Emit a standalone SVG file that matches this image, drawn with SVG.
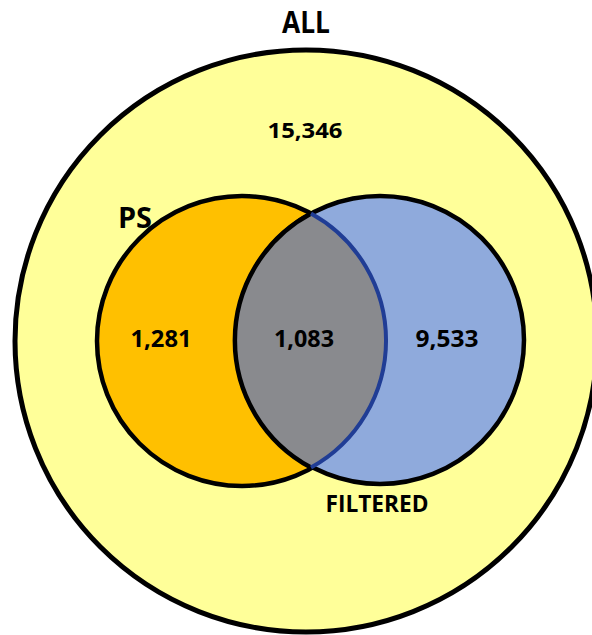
<svg xmlns="http://www.w3.org/2000/svg" width="592" height="635" viewBox="0 0 592 635">
  <style>
    .lbl { font-family: "Open Sans", "Liberation Sans", sans-serif; font-weight: bold; fill: #000; text-anchor: middle; }
    .ring { stroke: #000; stroke-width: 4.5; }
  </style>
  <rect width="592" height="635" fill="#ffffff"/>

  <!-- universe -->
  <g id="all">
    <circle cx="306" cy="341" r="291" fill="#FFFF99" stroke="#000" stroke-width="5"/>
    <text class="lbl" x="306" y="33" font-size="30" textLength="48" lengthAdjust="spacingAndGlyphs">ALL</text>
    <text class="lbl" x="305" y="138" font-size="22" textLength="75" lengthAdjust="spacingAndGlyphs">15,346</text>
  </g>

  <!-- PS set -->
  <g id="ps">
    <circle class="ring" cx="242" cy="341" r="145" fill="#FFC000"/>
    <text class="lbl" x="135" y="228" font-size="28" textLength="34" lengthAdjust="spacingAndGlyphs">PS</text>
    <text class="lbl" x="161" y="347" font-size="23" textLength="61" lengthAdjust="spacingAndGlyphs">1,281</text>
  </g>

  <!-- FILTERED set -->
  <g id="filtered">
    <circle class="ring" cx="380" cy="340" r="144" fill="#8FAADC"/>
    <text class="lbl" x="447" y="347" font-size="23" textLength="63" lengthAdjust="spacingAndGlyphs">9,533</text>
    <text class="lbl" x="377" y="512" font-size="23" textLength="103" lengthAdjust="spacingAndGlyphs">FILTERED</text>
  </g>

  <!-- overlap of PS and FILTERED -->
  <g id="overlap">
    <path d="M311,213.5 A144,144 0 0 0 311,467.5 A145,145 0 0 0 311,213.5 Z" fill="#898A8E" stroke="none"/>
    <path d="M311,213.5 A144,144 0 0 0 311,467.5" fill="none" stroke="#000" stroke-width="4.5"/>
    <path d="M311,467.5 A145,145 0 0 0 311,213.5" fill="none" stroke="#203D95" stroke-width="4"/>
    <text class="lbl" x="304" y="347" font-size="23" textLength="60" lengthAdjust="spacingAndGlyphs">1,083</text>
  </g>

  <g id="connectors"></g>
</svg>
